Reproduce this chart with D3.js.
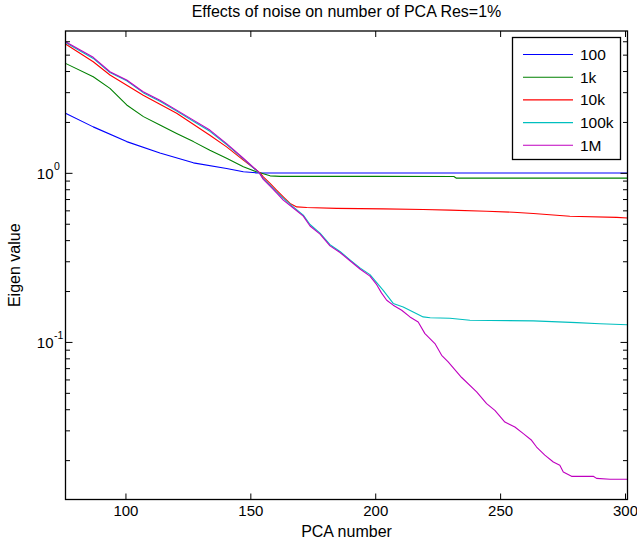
<!DOCTYPE html>
<html>
<head>
<meta charset="utf-8">
<script src="https://cdn.jsdelivr.net/npm/d3@7"></script>
<style>
  html, body { margin: 0; padding: 0; background: #fff; }
  svg { display: block; font-family: "Liberation Sans", Arial, Helvetica, sans-serif; }
</style>
</head>
<body>
<svg id="chart" width="637" height="544"></svg>
<script>
// ---------- data ----------
const seriesNames = ["100", "1k", "10k", "100k", "1M"];
const seriesColors = ["#0000ff", "#008000", "#ff0000", "#00bfbf", "#bf00bf"];

// [PCA number, eigen value]
const noise100 = [
  [76, 2.25], [87.1, 1.87], [100.5, 1.53], [113.8, 1.31], [127.2, 1.146],
  [140.5, 1.062], [147.2, 1.014], [152.5, 1.0], [160, 0.998], [220, 0.998], [301, 0.998]
];
const noise1k = [
  [76, 4.44], [87.1, 3.70], [93.8, 3.16], [100.5, 2.52], [107.2, 2.15], [113.8, 1.92],
  [120.5, 1.71], [127.2, 1.53], [133.8, 1.36], [140.5, 1.22], [147.2, 1.085],
  [152.5, 1.014], [157.9, 0.96], [162, 0.953], [200, 0.953], [231.5, 0.952],
  [232.5, 0.93], [301, 0.93]
];
const noise10k = [
  [76, 5.78], [87.1, 4.54], [93.8, 3.79], [107.1, 2.88], [120.5, 2.25], [133.8, 1.67],
  [140.5, 1.425], [147.2, 1.19], [152.5, 1.037], [153.9, 1.0], [155.2, 0.947],
  [157.9, 0.866], [160.5, 0.79], [163.2, 0.721], [165.9, 0.659], [168.6, 0.629],
  [172.6, 0.624], [184.6, 0.616], [203.2, 0.612], [219.2, 0.607], [229.9, 0.602],
  [244.6, 0.593], [255.3, 0.585], [263.3, 0.575], [277.9, 0.554], [296.7, 0.545],
  [301, 0.541]
];
const noise100k = [
  [76, 5.9], [87.1, 4.75], [93.8, 3.92], [100.5, 3.50], [107.1, 2.98], [113.8, 2.65],
  [120.5, 2.32], [127.2, 2.02], [133.8, 1.76], [140.5, 1.47], [147.2, 1.21],
  [152.5, 1.03], [153.6, 1.0], [155.2, 0.925], [157.9, 0.846], [160.5, 0.772],
  [163.2, 0.706], [167.2, 0.629], [171.2, 0.562], [173.9, 0.495], [177.9, 0.44],
  [181.9, 0.376], [185.9, 0.343], [189.9, 0.306], [193.9, 0.274], [197.9, 0.25],
  [200.6, 0.224], [203.2, 0.202], [207.2, 0.169], [211.2, 0.161], [215.2, 0.1505],
  [219.2, 0.1406], [222, 0.139], [229.9, 0.138], [237.9, 0.1344], [263.3, 0.1333],
  [280.7, 0.130], [290, 0.128], [301, 0.1264]
];
const noise1M = [
  [76, 5.96], [87.1, 4.82], [93.8, 3.96], [100.5, 3.54], [107.1, 3.02], [113.8, 2.69],
  [120.5, 2.35], [127.2, 2.05], [133.8, 1.79], [140.5, 1.49], [147.2, 1.22],
  [152.5, 1.037], [153.6, 1.0], [155.2, 0.915], [157.9, 0.835], [160.5, 0.76],
  [163.2, 0.69], [167.2, 0.62], [171.2, 0.555], [173.9, 0.485], [177.9, 0.434],
  [181.9, 0.37], [185.9, 0.338], [189.9, 0.302], [193.9, 0.27], [197.9, 0.245],
  [200.6, 0.218], [202.5, 0.195], [204.6, 0.1765], [207.2, 0.165], [210.6, 0.154],
  [213.9, 0.1406], [217.2, 0.1313], [219.9, 0.112], [223.9, 0.0978], [226.6, 0.0834],
  [229.2, 0.0762], [234.6, 0.0616], [240.6, 0.0506], [244.6, 0.0432], [247.9, 0.0394],
  [251.9, 0.0336], [255.9, 0.0314], [259.3, 0.0287], [262.6, 0.0262], [264.6, 0.0239],
  [267.9, 0.0214], [271.3, 0.0195], [273.9, 0.01864], [275.3, 0.01701], [278.6, 0.01604],
  [287.3, 0.01604], [288.6, 0.0156], [294, 0.0154], [301, 0.0154]
];
const seriesData = [noise100, noise1k, noise10k, noise100k, noise1M];

const xTicks = [100, 150, 200, 250, 300];
const yMajorTicks = [0.1, 1];
const yMajorExp = ["-1", "0"];
const yMinorTicks = [0.02, 0.03, 0.04, 0.05, 0.06, 0.07, 0.08, 0.09,
                     0.2, 0.3, 0.4, 0.5, 0.6, 0.7, 0.8, 0.9,
                     2, 3, 4, 5, 6];
const xDomain = [76, 301];
const yDomain = [0.0117, 6.9];

const titleText = "Effects of noise on number of PCA Res=1%";
const xLabel = "PCA number";
const yLabel = "Eigen value";

// ---------- layout ----------
const L = 65.5, R = 627.5, T = 31, B = 499.5;
const svg = d3.select("#chart");

const x = d3.scaleLinear().domain(xDomain).range([L, R]);
const y = d3.scaleLog().domain(yDomain).range([B, T]);

svg.append("defs").append("clipPath").attr("id", "clip")
  .append("rect").attr("x", L).attr("y", T).attr("width", R - L).attr("height", B - T);

// lines
const line = d3.line().x(d => x(d[0])).y(d => y(d[1]));
const g = svg.append("g").attr("clip-path", "url(#clip)");
seriesData.forEach((s, i) => {
  g.append("path").datum(s)
    .attr("d", line)
    .attr("fill", "none")
    .attr("stroke", seriesColors[i])
    .attr("stroke-width", 1.1)
    .attr("stroke-linejoin", "round");
});

// axes (inside ticks, boxed)
const font = "16px";
const tickFont = "15px";
const majorLen = 7, minorLen = 4.5;

const xAxisB = d3.axisBottom(x).tickValues(xTicks).tickSizeInner(-6).tickSizeOuter(0).tickPadding(6);
const xAxisT = d3.axisTop(x).tickValues(xTicks).tickSizeInner(-6).tickSizeOuter(0).tickFormat("");
const gxb = svg.append("g").attr("transform", `translate(0,${B})`).call(xAxisB);
svg.append("g").attr("transform", `translate(0,${T})`).call(xAxisT);
gxb.selectAll("text").attr("font-size", tickFont).attr("fill", "#000")
  .attr("font-family", "Liberation Sans, Arial, sans-serif");

const yAxisLMaj = d3.axisLeft(y).tickValues(yMajorTicks).tickSizeInner(-majorLen).tickSizeOuter(0).tickFormat("");
const yAxisLMin = d3.axisLeft(y).tickValues(yMinorTicks).tickSizeInner(-minorLen).tickSizeOuter(0).tickFormat("");
const yAxisRMaj = d3.axisRight(y).tickValues(yMajorTicks).tickSizeInner(-majorLen).tickSizeOuter(0).tickFormat("");
const yAxisRMin = d3.axisRight(y).tickValues(yMinorTicks).tickSizeInner(-minorLen).tickSizeOuter(0).tickFormat("");
svg.append("g").attr("transform", `translate(${L},0)`).call(yAxisLMaj);
svg.append("g").attr("transform", `translate(${L},0)`).call(yAxisLMin);
svg.append("g").attr("transform", `translate(${R},0)`).call(yAxisRMaj);
svg.append("g").attr("transform", `translate(${R},0)`).call(yAxisRMin);
svg.selectAll(".domain").remove();
svg.selectAll(".tick line").attr("stroke", "#000").attr("stroke-width", 1);

// frame
svg.append("rect").attr("x", L).attr("y", T).attr("width", R - L).attr("height", B - T)
  .attr("fill", "none").attr("stroke", "#000").attr("stroke-width", 1.3);

// y tick labels 10^n
yMajorTicks.forEach((v, i) => {
  svg.append("text").attr("x", 53.5).attr("y", y(v) + 6)
    .attr("text-anchor", "end").attr("font-size", tickFont).text("10");
  svg.append("text").attr("x", 54).attr("y", y(v) - 3)
    .attr("font-size", "10.5px").text(yMajorExp[i]);
});

// title and labels
svg.append("text").attr("x", (L + R) / 2).attr("y", 17).attr("text-anchor", "middle")
  .attr("font-size", font).text(titleText);
svg.append("text").attr("x", (L + R) / 2).attr("y", 537).attr("text-anchor", "middle")
  .attr("font-size", font).text(xLabel);
svg.append("text").attr("transform", `translate(20,${(T + B) / 2}) rotate(-90)`)
  .attr("text-anchor", "middle").attr("font-size", font).text(yLabel);

// legend
const lg = svg.append("g");
lg.append("rect").attr("x", 512.5).attr("y", 37.5).attr("width", 108).attr("height", 122)
  .attr("fill", "#fff").attr("stroke", "#000").attr("stroke-width", 1.3);
seriesNames.forEach((n, i) => {
  const cy = 54.5 + i * 22.7;
  lg.append("line").attr("x1", 523).attr("x2", 573).attr("y1", cy).attr("y2", cy)
    .attr("stroke", seriesColors[i]).attr("stroke-width", 1.1);
  lg.append("text").attr("x", 580).attr("y", cy + 5.5).attr("font-size", "15.5px").text(n);
});
</script>
</body>
</html>
